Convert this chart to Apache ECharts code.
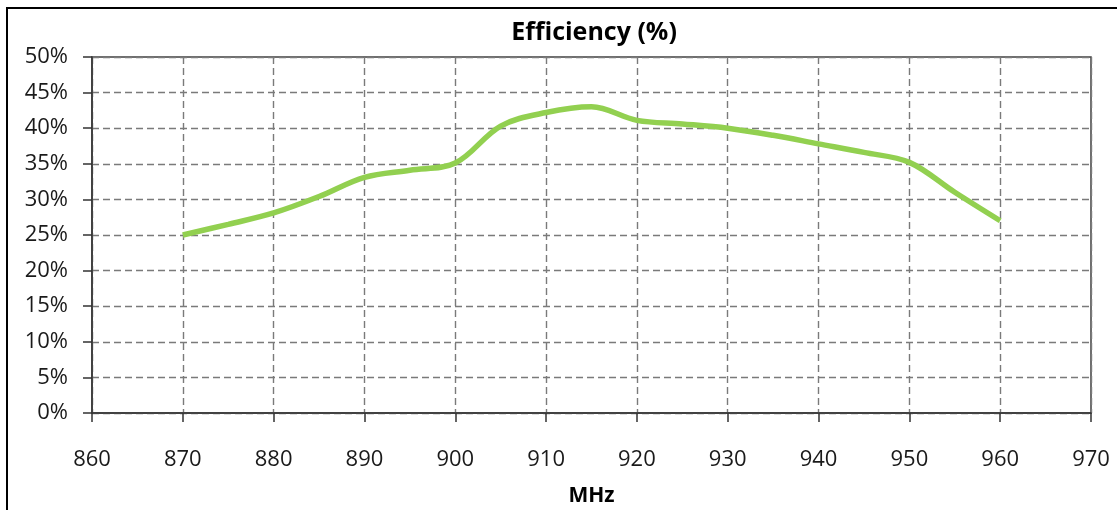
<!DOCTYPE html>
<html>
<head>
<meta charset="utf-8">
<script src="https://cdn.jsdelivr.net/npm/echarts@6/dist/echarts.min.js"></script>
<style>
html,body{margin:0;padding:0;background:#fff;}
#chart{width:1117px;height:510px;}
</style>
</head>
<body>
<div id="chart"></div>
<script>
var titleText = 'Efficiency (%)';
var xAxisName = 'MHz';
var freqMHz = [870, 875, 880, 885, 890, 895, 900, 905, 910, 915, 920, 925, 930, 935, 940, 945, 950, 955, 960];
var efficiency = [25.0, 26.5, 28.1, 30.4, 33.1, 34.1, 35.1, 40.3, 42.2, 43.0, 41.1, 40.6, 40.0, 39.0, 37.8, 36.6, 35.2, 31.0, 27.0];

var seriesData = freqMHz.map(function (f, i) { return [f, efficiency[i]]; });
var chart = echarts.init(document.getElementById('chart'), null, {renderer: 'canvas'});
var labelFont = '"Open Sans", sans-serif';
chart.setOption({
  animation: false,
  backgroundColor: '#fff',
  title: {
    text: titleText,
    left: 589, top: 15, textAlign: 'center',
    textStyle: {fontFamily: labelFont, fontWeight: 'bold', fontSize: 25, color: '#000'}
  },
  graphic: [{
    type: 'rect', silent: true, z: 100,
    shape: {x: 7, y: 8, width: 1200, height: 600},
    style: {fill: 'none', stroke: '#000', lineWidth: 2}
  }],
  grid: {left: 92, right: 26, top: 57, bottom: 97, outerBoundsMode: 'none', containLabel: false,
         show: true, borderColor: '#404040', borderWidth: 1.5, backgroundColor: 'transparent'},
  xAxis: {
    type: 'value', min: 860, max: 970, interval: 10,
    name: xAxisName, nameLocation: 'middle', nameGap: 73,
    nameTextStyle: {fontFamily: labelFont, fontWeight: 'bold', fontSize: 21, color: '#000'},
    axisLine: {lineStyle: {color: '#333', width: 1.5}},
    axisTick: {show: true, inside: false, length: 9, lineStyle: {color: '#333', width: 1.5}},
    axisLabel: {fontFamily: labelFont, fontSize: 22, color: '#1a1a1a', margin: 36},
    splitLine: {show: true, lineStyle: {type: [7, 4], color: '#7a7a7a', width: 1.4}}
  },
  yAxis: {
    type: 'value', min: 0, max: 50, interval: 5,
    axisLine: {show: true, lineStyle: {color: '#333', width: 1.5}},
    axisTick: {show: true, inside: false, length: 9, lineStyle: {color: '#333', width: 1.5}},
    axisLabel: {fontFamily: labelFont, fontSize: 22, color: '#1a1a1a', margin: 24, formatter: '{value}%'},
    splitLine: {show: true, lineStyle: {type: [7, 4], color: '#7a7a7a', width: 1.4}}
  },
  series: [{
    type: 'line', data: seriesData, smooth: 0.35, symbol: 'none',
    lineStyle: {color: '#92D050', width: 5.5}
  }]
});
</script>
</body>
</html>
